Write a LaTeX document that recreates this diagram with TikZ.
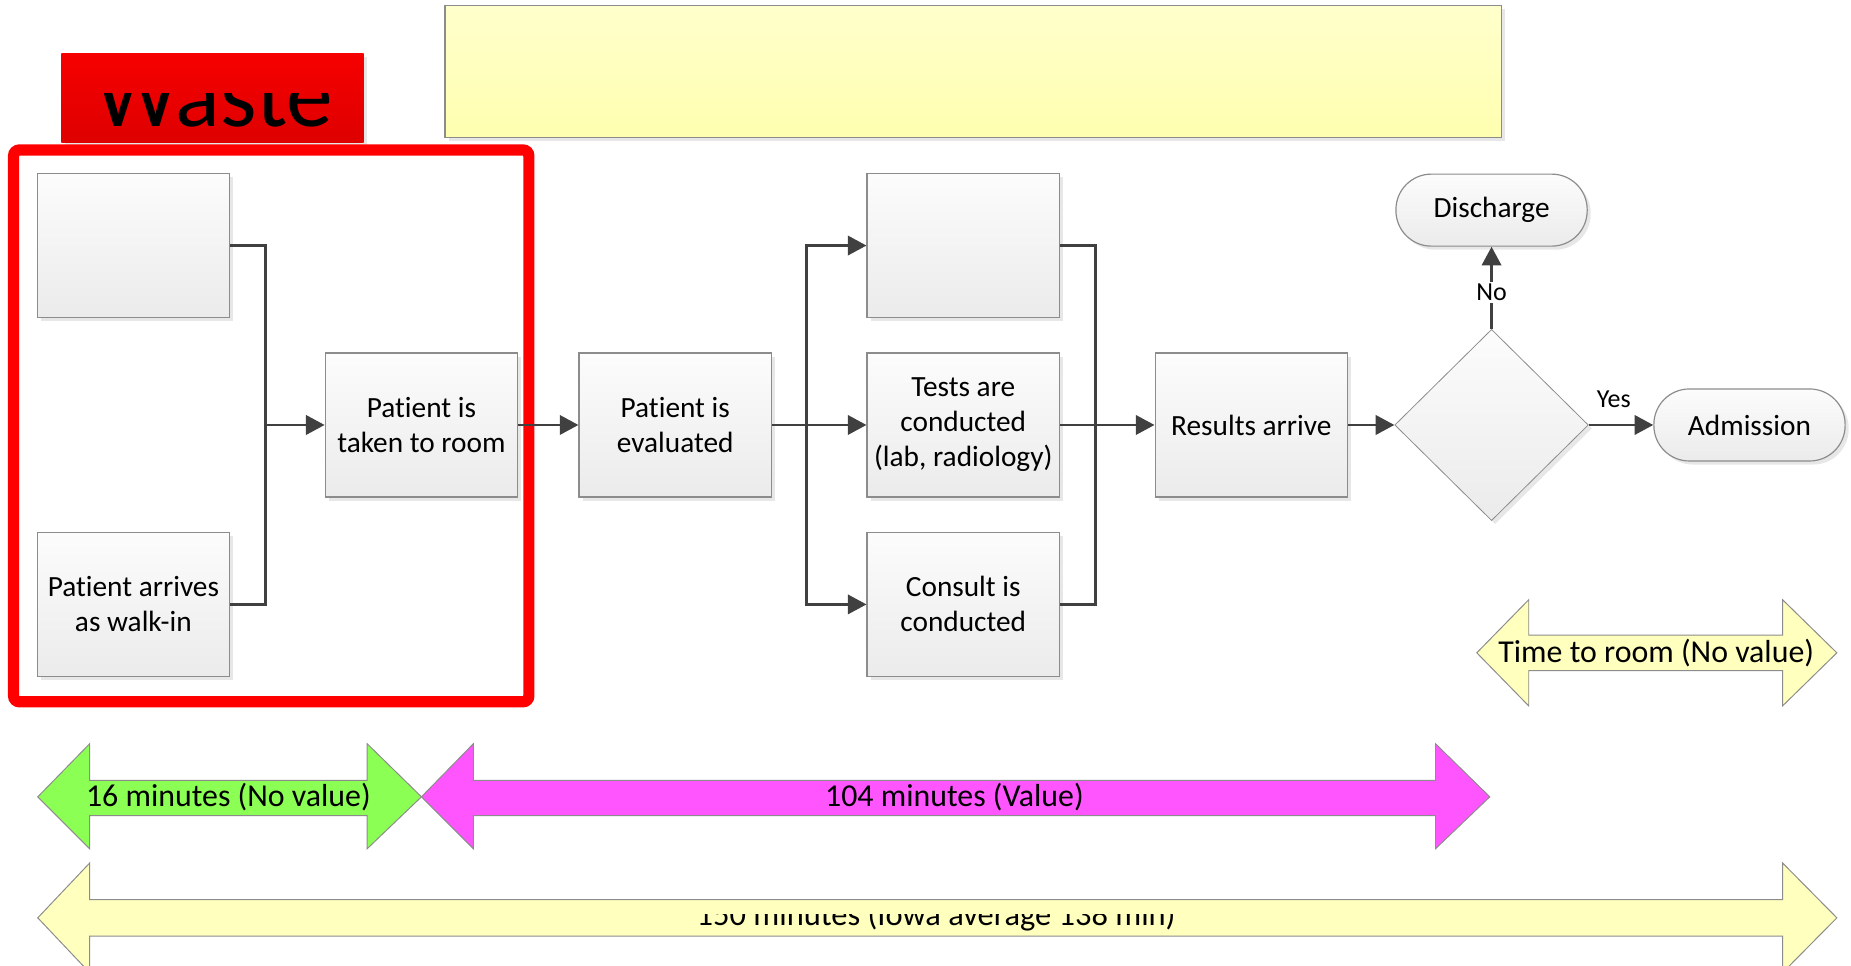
\documentclass[tikz,border=0pt]{standalone}
\usepackage{fontspec}
\setmainfont{Carlito}[RawFeature=-liga]
\usetikzlibrary{arrows.meta,shapes.geometric,shadows}

\definecolor{linegray}{RGB}{64,64,64}
\definecolor{edgegray}{RGB}{140,140,140}
\definecolor{boxtop}{RGB}{252,252,252}
\definecolor{boxbot}{RGB}{235,235,235}
\definecolor{noteyel}{RGB}{255,255,204}
\definecolor{noteyelb}{RGB}{255,255,176}
\definecolor{arrowyel}{RGB}{255,255,190}
\definecolor{valgreen}{RGB}{140,255,85}
\definecolor{valpink}{RGB}{255,85,255}
\definecolor{wastetop}{RGB}{246,0,0}
\definecolor{wastebot}{RGB}{222,0,0}
\definecolor{framered}{RGB}{255,0,0}

\begin{document}
\begin{tikzpicture}[x=0.6pt,y=-0.6pt,
  softshadow/.style={drop shadow={shadow xshift=1.8pt,shadow yshift=-1.8pt,fill=black!18,opacity=0.5}},
  stepbox/.style={rectangle,draw=edgegray,line width=0.6pt,top color=boxtop,bottom color=boxbot,
    minimum width=163*0.6pt,minimum height=122*0.6pt,inner sep=0pt,align=center,
    font=\fontsize{14.9}{17.8}\selectfont,softshadow},
  termbox/.style={rectangle,rounded corners=18pt,draw=edgegray,line width=0.6pt,top color=boxtop,bottom color=boxbot,
    minimum width=162*0.6pt,minimum height=61*0.6pt,inner sep=0pt,
    font=\fontsize{14.9}{17.8}\selectfont,softshadow},
  decision/.style={diamond,aspect=1,draw=edgegray,line width=0.4pt,top color=boxtop,bottom color=boxbot,
    minimum width=164*0.6pt,minimum height=162*0.6pt,inner sep=0pt,softshadow},
  conn/.style={draw=linegray,line width=1.5pt},
  flow/.style={conn,-{Triangle[length=9.5pt,width=9.8pt]}},
  edgelabel/.style={font=\fontsize{13.2}{15}\selectfont,inner sep=1pt},
  spanarrow/.style={draw=edgegray,line width=0.5pt},
  spanlabel/.style={font=\fontsize{16.2}{19}\selectfont,inner sep=0pt,anchor=base},
]
\clip (0,0) rectangle (1568,818);
\fill[white] (0,0) rectangle (1568,818);

% header bar and "Waste" tag
\node[rectangle,draw=edgegray,line width=0.6pt,top color=noteyel,bottom color=noteyelb,
  minimum width=895*0.6pt,minimum height=112*0.6pt,softshadow] (header) at (824.5,60.5) {};
\node[rectangle,top color=wastetop,bottom color=wastebot,
  minimum width=256*0.6pt,minimum height=75.5*0.6pt,softshadow] (waste) at (180,83) {};
\begin{scope}
  \clip (52,79) rectangle (308,121);
  \node[font=\fontsize{47.5}{52}\selectfont,inner sep=0pt,anchor=base] (wastetext) at (181.5,107.5) {Waste};
\end{scope}

% waste frame
\draw[framered,line width=9.5*0.6pt,rounded corners=3pt] (11.5,127) rectangle (448,594.5);

% process steps
\node[stepbox] (pre)     at (113,208) {};
\node[stepbox] (walkin)  at (113,512) {Patient arrives\\as walk-in};
\node[stepbox] (room)    at (357,360) {Patient is\\taken to room};
\node[stepbox] (eval)    at (572,360) {Patient is\\evaluated};
\node[stepbox] (extra)   at (816,208) {};
\node[stepbox] (tests)   at (816,360) {Tests are\\conducted\\(lab, radiology)};
\node[stepbox] (consult) at (816,512) {Consult is\\conducted};
\node[stepbox] (results) at (1060,360) {Results arrive};
\node[decision] (decide) at (1263.5,360) {};
\node[termbox] (discharge) at (1263.5,178) {Discharge};
\node[termbox] (admit)     at (1482,360) {Admission};

% junction points
\coordinate (joinA)  at (225,360);
\coordinate (split)  at (683.5,360);
\coordinate (merge)  at (928,360);

% connectors
\draw[conn] (pre.east) -| (joinA);
\draw[conn] (walkin.east) -| (joinA);
\draw[flow] (joinA) -- (room.west);
\draw[flow] (room.east) -- (eval.west);
\draw[conn] (eval.east) -- (split);
\draw[flow] (split) |- (extra.west);
\draw[flow] (split) -- (tests.west);
\draw[flow] (split) |- (consult.west);
\draw[conn] (extra.east) -| (merge);
\draw[conn] (consult.east) -| (merge);
\draw[conn] (tests.east) -- (merge);
\draw[flow] (merge) -- (results.west);
\draw[flow] (results.east) -- (decide.west);
\draw[flow] (decide.north) -- (discharge.south);
\draw[flow] (decide.east) -- (admit.west);
\node[edgelabel,fill=white] (nolabel) at (1263.5,247.5) {No};
\node[edgelabel,anchor=base] (yeslabel) at (1367,345.5) {Yes};

% time spans
\path[spanarrow,fill=arrowyel] (1251,553) -- (1295,508) -- (1295,538) -- (1510,538) -- (1510,508) -- (1556,553)
  -- (1510,598) -- (1510,568) -- (1295,568) -- (1295,598) -- cycle;
\node[spanlabel] (roomtime) at (1403,561) {Time to room (No value)};

\path[spanarrow,fill=valgreen] (32,675) -- (76,630) -- (76,661) -- (311,661) -- (311,630) -- (357,675)
  -- (311,719) -- (311,691) -- (76,691) -- (76,719) -- cycle;
\node[spanlabel] (novalue) at (193.5,683) {16 minutes (No value)};

\path[spanarrow,fill=valpink] (357,675) -- (401,630) -- (401,661) -- (1216,661) -- (1216,630) -- (1262,675)
  -- (1216,719) -- (1216,691) -- (401,691) -- (401,719) -- cycle;
\node[spanlabel] (value) at (808.5,683) {104 minutes (Value)};

\path[spanarrow,fill=arrowyel] (32,777.5) -- (76,731) -- (76,762) -- (1510,762) -- (1510,731) -- (1556,777.5)
  -- (1510,824) -- (1510,793) -- (76,793) -- (76,824) -- cycle;
\begin{scope}
  \clip (76,775) rectangle (1510,793);
  \node[spanlabel,font=\fontsize{16.5}{19}\selectfont] (total) at (793,784) {150 minutes (Iowa average 138 min)};
\end{scope}
\end{tikzpicture}
\end{document}
